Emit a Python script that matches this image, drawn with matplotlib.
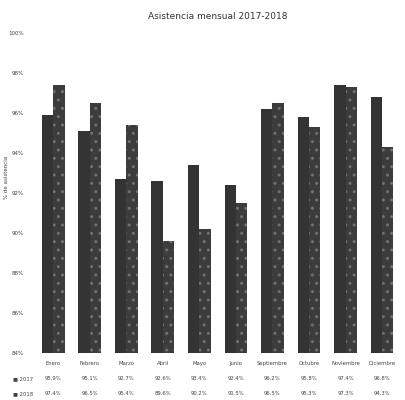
import numpy as np
import matplotlib
matplotlib.use("Agg")
import matplotlib.pyplot as plt

meses = ["Enero", "Febrero", "Marzo", "Abril", "Mayo", "Junio",
         "Septiembre", "Octubre", "Noviembre", "Diciembre"]
series = ["2017", "2018"]
asist_2017 = [95.9, 95.1, 92.7, 92.6, 93.4, 92.4, 96.2, 95.8, 97.4, 96.8]
asist_2018 = [97.4, 96.5, 95.4, 89.6, 90.2, 91.5, 96.5, 95.3, 97.3, 94.3]
y_ticks = [84, 86, 88, 90, 92, 94, 96, 98, 100]

fig = plt.figure(figsize=(4.06, 4.0), dpi=100)
ax = fig.add_axes([0.086, 0.1175, 0.9, 0.8])

x = np.arange(len(meses))
w = 0.31
ax.bar(x - w / 2, asist_2017, w, color="#333333", linewidth=0)
ax.bar(x + w / 2, asist_2018, w, color="#3c3c3c", edgecolor="#707070",
       hatch="..", linewidth=0)

ax.set_ylim(84, 100)
ax.set_xlim(-0.5, len(meses) - 0.5)
ax.set_yticks(y_ticks)
ax.set_yticklabels([f"{t}%" for t in y_ticks], fontsize=4, color="#444444")
ax.tick_params(axis="y", length=0, pad=8)
ax.set_xticks([])
for s in ax.spines.values():
    s.set_visible(False)
ax.set_ylabel("% de asistencia", fontsize=4, color="#444444")
ax.yaxis.set_label_coords(-0.072, 0.55)

ax.set_title("Asistencia mensual 2017-2018", fontsize=6.5, color="#333333", pad=10)

cell_text = [[f"{v:.1f}%" for v in asist_2017],
             [f"{v:.1f}%" for v in asist_2018]]
tbl = ax.table(cellText=cell_text, rowLabels=["\u25a0 " + s for s in series],
               colLabels=meses, cellLoc="center", loc="bottom",
               bbox=[0, -0.15, 1, 0.14], edges="open")
tbl.auto_set_font_size(False)
tbl.set_fontsize(3.8)
for (r, c), cell in tbl.get_celld().items():
    cell.get_text().set_color("#444444")

fig.savefig("out.png", dpi=100, facecolor="white")
